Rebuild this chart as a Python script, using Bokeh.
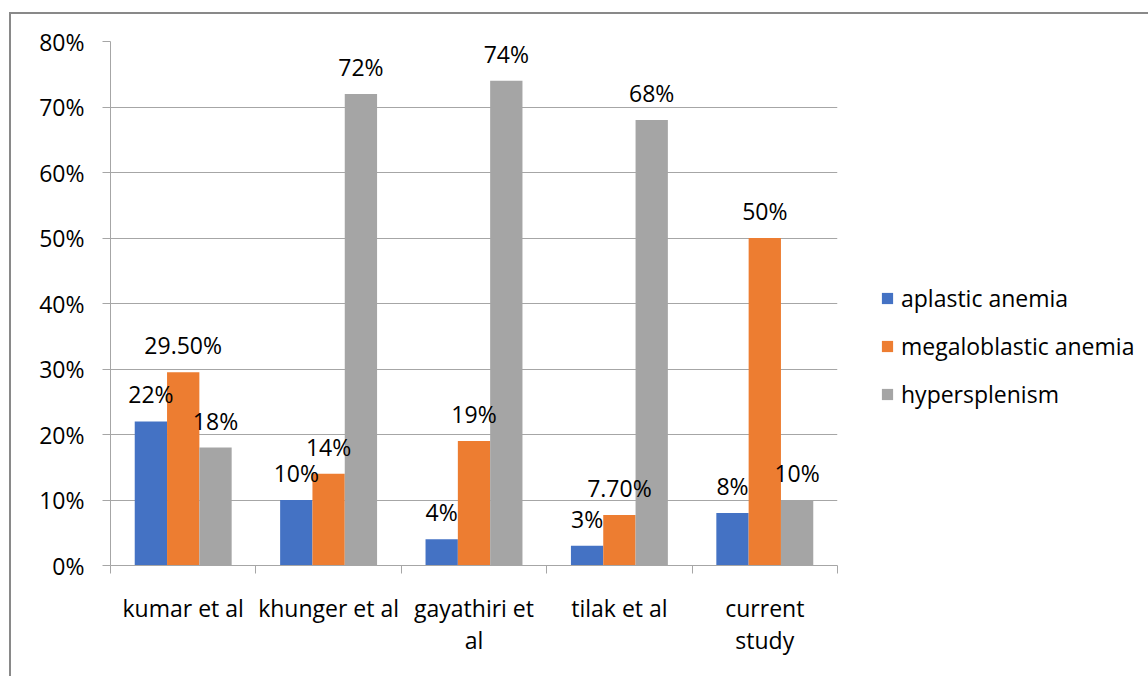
from bokeh.plotting import figure
from bokeh.models import (Range1d, FixedTicker, NumeralTickFormatter, Legend,
                          LegendItem, ColumnDataSource)
from bokeh.core.properties import value
from bokeh.embed import file_html
from bokeh.resources import INLINE

# Categories and series values (fractions)
studies = ["kumar et al", "khunger et al", "gayathiri et\nal", "tilak et al", "current\nstudy"]
series_names = ["aplastic anemia", "megaloblastic anemia", "hypersplenism"]
aplastic = [0.22, 0.10, 0.04, 0.03, 0.08]
megaloblastic = [0.295, 0.14, 0.19, 0.077, 0.50]
hypersplenism = [0.18, 0.72, 0.74, 0.68, 0.10]
aplastic_labels = ["22%", "10%", "4%", "3%", "8%"]
megaloblastic_labels = ["29.50%", "14%", "19%", "7.70%", "50%"]
hypersplenism_labels = ["18%", "72%", "74%", "68%", "10%"]
y_ticks = [0.0, 0.1, 0.2, 0.3, 0.4, 0.5, 0.6, 0.7, 0.8]

colors = ["#4472C4", "#ED7D31", "#A5A5A5"]
FONT = "Open Sans"
FS = "23px"
TEXT = "#000000"
GRID = "#A6A6A6"
BORDER = "#898989"

n = len(studies)
bar_w = 1.0 / 4.5  # three bars plus a 150% gap per category

p = figure(
    frame_width=727, frame_height=524,
    min_border_left=110, min_border_right=311,
    min_border_top=41, min_border_bottom=111,
    x_range=Range1d(0, n), y_range=Range1d(0, 0.8),
    output_backend="svg", toolbar_location=None,
)
p.border_fill_color = None
p.background_fill_color = "white"
p.outline_line_color = None
p.styles = {
    "background": (
        f"linear-gradient({BORDER},{BORDER}) 9px 12px / 2px 2000px no-repeat, "
        f"linear-gradient({BORDER},{BORDER}) 9px 12px / 3000px 2px no-repeat, white"
    )
}

# Grid
p.xgrid.grid_line_color = None
p.ygrid.grid_line_color = GRID
p.ygrid.grid_line_width = 1

# Y axis
p.yaxis.ticker = FixedTicker(ticks=y_ticks)
p.yaxis.formatter = NumeralTickFormatter(format="0%")
p.yaxis.axis_line_color = GRID
p.yaxis.major_tick_line_color = GRID
p.yaxis.major_tick_out = 8
p.yaxis.major_tick_in = 0
p.yaxis.minor_tick_line_color = None
p.yaxis.major_label_standoff = 18
p.yaxis.major_label_text_font = FONT
p.yaxis.major_label_text_font_size = FS
p.yaxis.major_label_text_color = TEXT

# X axis: labels at category centres, ticks at category boundaries
centers = [i + 0.5 for i in range(n)]
p.xaxis.ticker = FixedTicker(ticks=centers, minor_ticks=list(range(n + 1)))
p.xaxis.major_label_overrides = {c: s for c, s in zip(centers, studies)}
p.xaxis.axis_line_color = GRID
p.xaxis.major_tick_line_color = None
p.xaxis.minor_tick_line_color = GRID
p.xaxis.minor_tick_out = 8
p.xaxis.minor_tick_in = 0
p.xaxis.major_label_standoff = 18
p.xaxis.major_label_text_font = FONT
p.xaxis.major_label_text_font_size = FS
p.xaxis.major_label_text_color = TEXT
p.xaxis.major_label_text_line_height = 1.03

all_values = [aplastic, megaloblastic, hypersplenism]
all_labels = [aplastic_labels, megaloblastic_labels, hypersplenism_labels]

# Bars first, then every value label on top of them
items = []
sources = []
for j, (vals, labs, col, name) in enumerate(zip(all_values, all_labels, colors, series_names)):
    xs = [c + (j - 1) * bar_w for c in centers]
    src = ColumnDataSource(dict(x=xs, top=vals, label=labs))
    sources.append(src)
    r = p.vbar(x="x", top="top", bottom=0, width=bar_w, source=src,
               fill_color=col, line_color=None)
    items.append(LegendItem(label=name, renderers=[r]))

for src in sources:
    p.text(x="x", y="top", text="label", source=src, y_offset=-27,
           text_align="center", text_baseline="middle",
           text_font=value(FONT), text_font_size=FS, text_color=TEXT)

legend = Legend(
    items=items, location=(43, 155),
    orientation="vertical",
    glyph_width=14, glyph_height=14, label_height=20,
    spacing=16, padding=0, margin=0, label_standoff=7,
    border_line_color=None, background_fill_alpha=0,
    label_text_font=FONT, label_text_font_size=FS, label_text_color=TEXT,
)
p.add_layout(legend, "right")

open("out.html", "w").write(file_html(p, INLINE))
